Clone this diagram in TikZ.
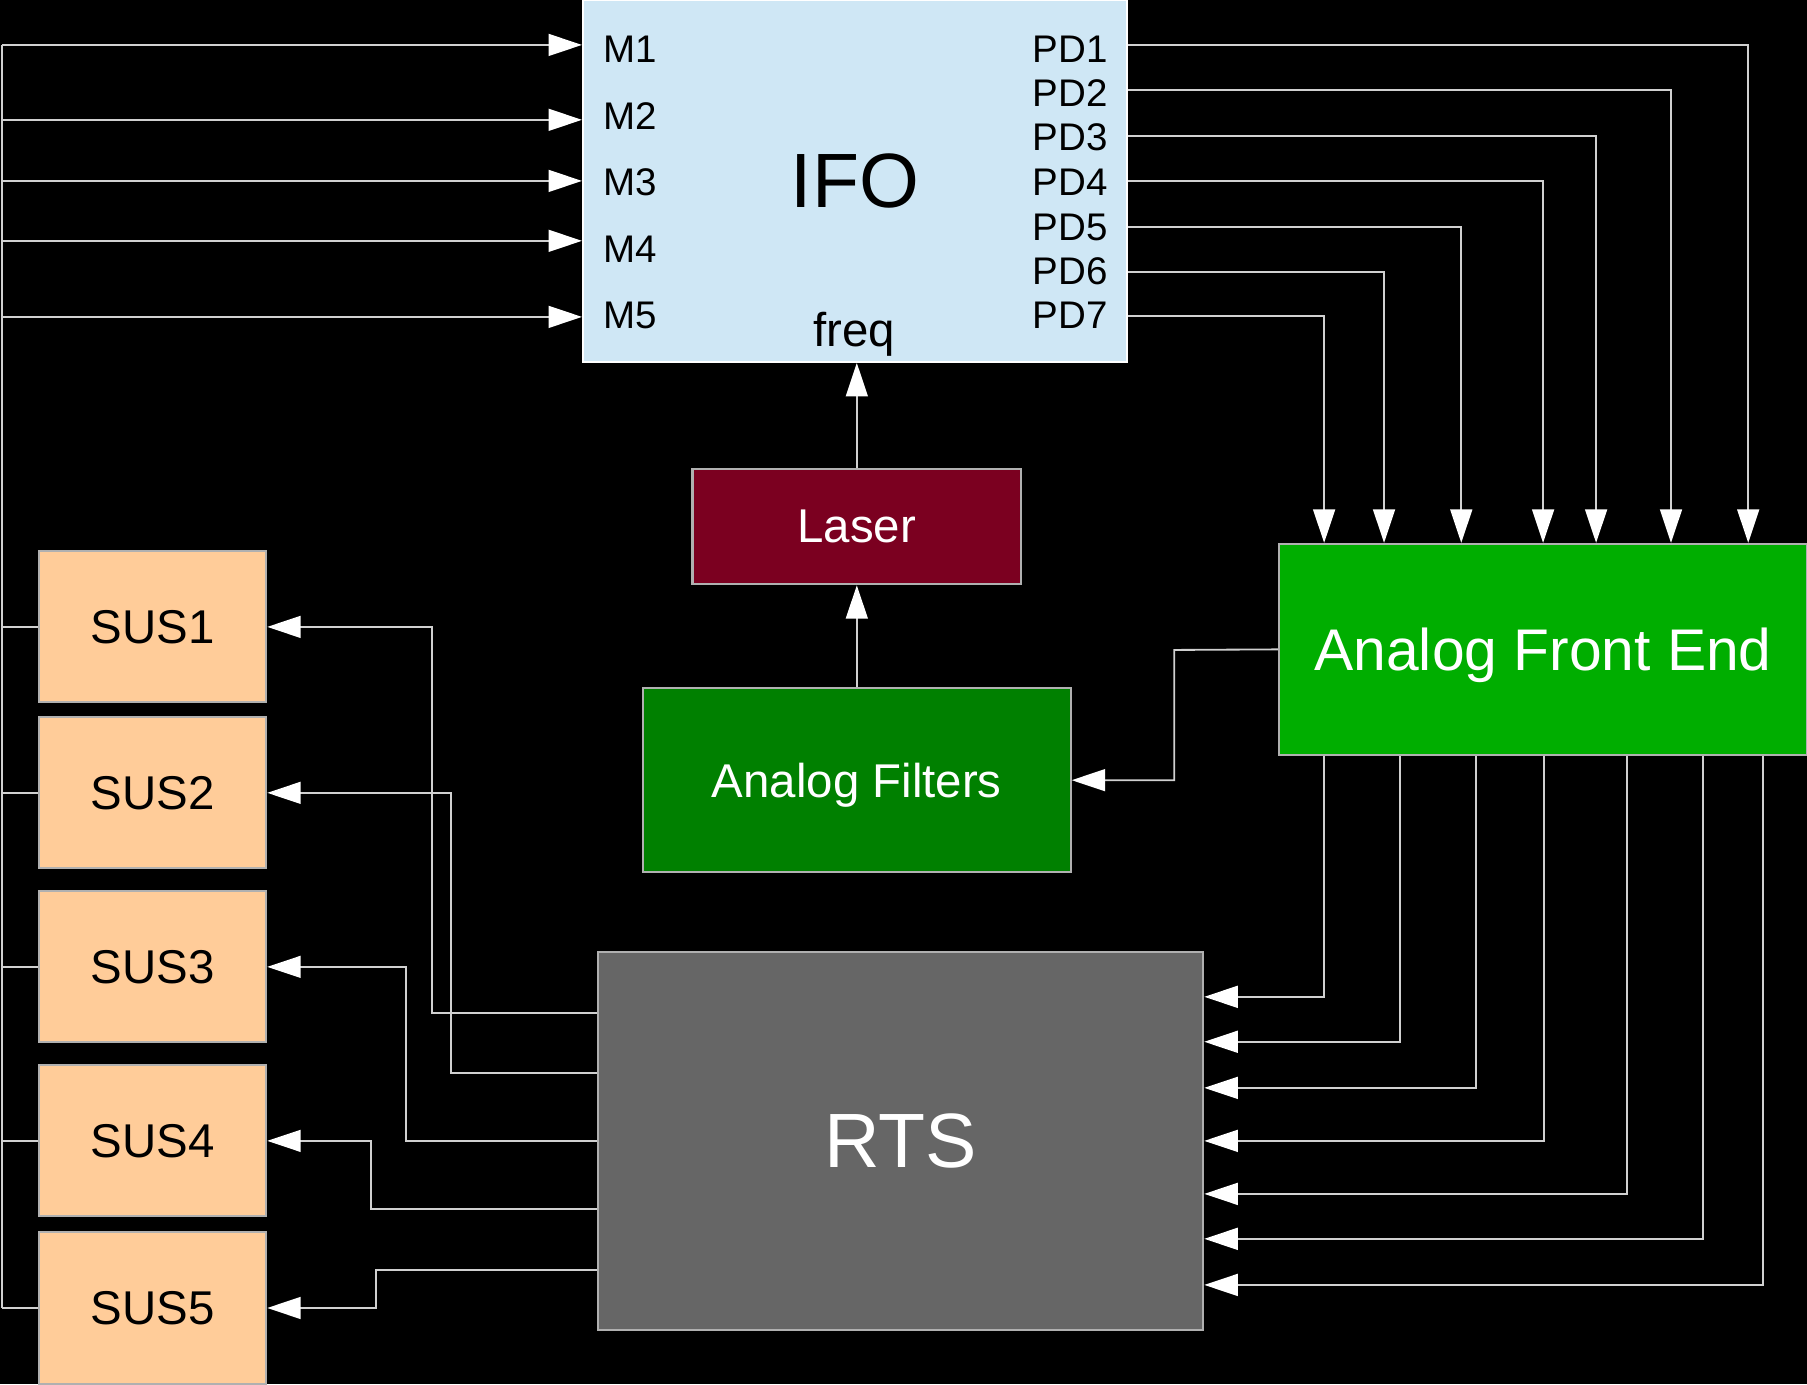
\documentclass[tikz,border=0pt]{standalone}
\usepackage{fontspec}
\setmainfont{Liberation Sans}
\usetikzlibrary{arrows.meta}

\definecolor{ifoblue}{HTML}{CFE7F5}
\definecolor{laserred}{HTML}{7B0020}
\definecolor{filtgreen}{HTML}{008000}
\definecolor{afegreen}{HTML}{00AE00}
\definecolor{rtsgray}{HTML}{666666}
\definecolor{susorange}{HTML}{FFCC99}
\definecolor{wire}{HTML}{D0D0D0}
\definecolor{edge}{HTML}{B0B0B0}

\begin{document}
\begin{tikzpicture}[x=0.01cm, y=-0.01cm,
  box/.style={draw=edge, line width=0.5pt, inner sep=0pt, align=center, text depth=0pt},
  sig/.style={wire, line width=0.45pt},
  tip/.style={sig, -{Triangle[length=2.9mm, width=1.9mm, color=white]}},
  port/.style={font=\fontsize{9.5}{11}\selectfont, inner sep=0pt},
  bigtxt/.style={font=\fontsize{19}{23}\selectfont},
  midtxt/.style={font=\fontsize{11.7}{14}\selectfont}]

% Background
\useasboundingbox (0,0) rectangle (1568,1201);
\fill[black] (0,0) rectangle (1568,1201);

% Boxes
\node[box, fill=ifoblue, draw=white, bigtxt, minimum width=4.72cm, minimum height=3.14cm] (IFO) at (742,157) {IFO};
\node[box, fill=laserred, text=white, midtxt, minimum width=2.85cm, minimum height=1.0cm] (Laser) at (743.5,457) {Laser};
\node[box, fill=filtgreen, text=white, midtxt, minimum width=3.71cm, minimum height=1.6cm] (Filters) at (743.5,677) {Analog Filters};
\node[box, fill=afegreen, text=white, font=\fontsize{14.5}{17}\selectfont, minimum width=4.58cm, minimum height=1.83cm] (AFE) at (1339,563.5) {Analog Front End};
\node[box, fill=rtsgray, text=white, bigtxt, minimum width=5.25cm, minimum height=3.28cm] (RTS) at (781.5,990) {RTS};

% freq input of the IFO
\node[midtxt, inner sep=0pt, anchor=base] (freq) at (741,301) {freq};

% Mirror inputs
\foreach \i/\ty/\ay in {1/43/39, 2/101/104, 3/158/157, 4/216/209, 5/274/275} {
  \node[port, anchor=west] (M\i) at (523,\ty) {M\i};
  \coordinate (busM\i) at (2,\ay);
  \draw[tip] (busM\i) -- (IFO.west |- busM\i);
}

% Photodiode outputs
\foreach \i/\ty/\ay/\dx in {1/43/39/1517, 2/81/78/1450, 3/119/118/1385, 4/158/157/1339, 5/197/197/1268, 6/235/236/1201, 7/274/274/1149} {
  \node[port, anchor=east] (PD\i) at (962,\ty) {PD\i};
  \coordinate (drop\i) at (\dx,\ay);
  \draw[tip] (IFO.east |- drop\i) -- (drop\i) -- (drop\i |- AFE.north);
}

% Front end to RTS
\foreach \i/\dx/\ry in {1/1149/865, 2/1215/904, 3/1281/944, 4/1340/990, 5/1412/1036, 6/1478/1075, 7/1530/1115} {
  \coordinate (out\i) at (\dx,\ry);
  \draw[tip] (out\i |- AFE.south) -- (out\i) -- (RTS.east |- out\i);
}

% Suspensions
\foreach \i/\sy/\ry/\cx in {1/544/879/375, 2/688/931/391, 3/839/990/352, 4/990/1049/322, 5/1135/1102/326} {
  \node[box, fill=susorange, midtxt, minimum width=1.97cm, minimum height=1.31cm] (SUS\i) at (132.5,\sy) {SUS\i};
  \coordinate (cmd\i) at (\cx,\ry);
  \draw[tip] (RTS.west |- cmd\i) -- (cmd\i) |- (SUS\i.east);
  \draw[sig] (busM1 |- SUS\i.west) -- (SUS\i.west);
}
\draw[sig] (busM1) -- (busM1 |- SUS5.west);

% Laser chain
\coordinate (fb) at (1019,564);
\draw[tip] (AFE.west) -- (fb) |- (Filters.east);
\draw[tip] (Filters.north) -- (Laser.south);
\draw[tip] (Laser.north) -- (Laser.north |- IFO.south);
\end{tikzpicture}
\end{document}
